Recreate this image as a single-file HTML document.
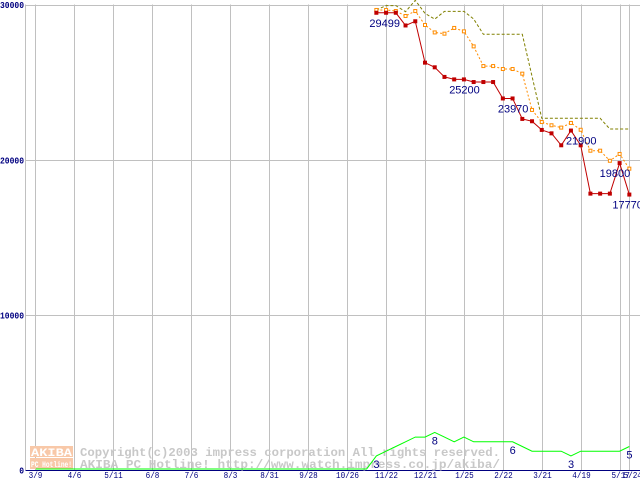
<!DOCTYPE html>
<html><head><meta charset="utf-8"><style>
html,body{margin:0;padding:0;background:#fff;}
svg{display:block;}
text{font-family:"Liberation Mono",monospace;}
</style></head><body>
<svg id="chart" width="640" height="480" xmlns="http://www.w3.org/2000/svg">
<g id="grid"></g>
<g id="wm">
  <rect x="30" y="446" width="43" height="11" fill="#f8c8a8"/>
  <rect x="30" y="458" width="43" height="11" fill="#f8c8a8"/>
  <text x="31" y="456" font-size="11" fill="#fff" font-weight="bold" textLength="41" lengthAdjust="spacingAndGlyphs">AKIBA</text>
  <text x="31" y="467" font-size="8" fill="#fff" font-weight="bold" textLength="41" lengthAdjust="spacingAndGlyphs">PC Hotline!</text>
  <text x="80" y="456" font-size="12" fill="#c8c8c8" font-weight="bold" textLength="420" lengthAdjust="spacingAndGlyphs">Copyright(c)2003 impress corporation All rights reserved.</text>
  <text x="80" y="468" font-size="12" fill="#c8c8c8" font-weight="bold" textLength="420" lengthAdjust="spacingAndGlyphs">AKIBA PC Hotline!  http://www.watch.impress.co.jp/akiba/</text>
</g>
<g id="series"></g>
</svg>
<script>
const xLabels=["3/9","4/6","5/11","6/8","7/6","8/3","8/31","9/28","10/26","11/22","12/21","1/25","2/22","3/21","4/19","5/17","5/24"];
const yTicks=[0,10000,20000,30000];
const startWeek=35;
const minPrice=[29499,29499,29499,28680,28950,26280,25980,25360,25200,25200,25030,25030,25030,23970,23970,22650,22500,21940,21720,20950,21900,20950,17830,17830,17830,19800,17770];
const avgPrice=[29680,29680,29610,29290,29610,28710,28230,28150,28520,28300,27330,26060,26060,25870,25870,25570,23230,22450,22240,22090,22390,21950,20600,20600,19950,20390,19440];
const maxPrice=[29680,29960,29960,29570,30300,29460,29090,29590,29590,29590,29100,28110,28110,28110,28110,28110,25400,22690,22690,22690,22690,22690,22690,22690,22000,22000,22000];
const shopCount=[3,4,5,6,7,7,8,7,6,7,6,6,6,6,6,5,4,4,4,4,3,4,4,4,4,4,5];
const priceLabels=[[0,"29499"],[8,"25200"],[13,"23970"],[20,"21900"],[25,"19800"],[26,"17770"]];
const countLabels=[[0,"3"],[6,"8"],[14,"6"],[20,"3"],[26,"5"]];

const NS="http://www.w3.org/2000/svg";
const xw=w=>35.8+w*9.73;
const yP=v=>470-v*0.0155;
const yC=c=>470-c*4.7;
function mk(tag,attrs,parent){const e=document.createElementNS(NS,tag);for(const k in attrs)e.setAttribute(k,attrs[k]);parent.appendChild(e);return e;}
const grid=document.getElementById('grid'),ser=document.getElementById('series');
const gx=[];for(let k=0;k<16;k++)gx.push(35.5+39*k);gx.push(629.5);
gx.forEach((x,i)=>{
 const l=mk('line',{x1:x,y1:4.5,x2:x,y2:470,stroke:'#c0c0c0'},grid);
 
 
 const s=xLabels[i];
 const w=s.length*4.6;
 const t=mk('text',{x:i==15?x-9:(i==16?x-6:x-w/2),y:478,'font-size':9,fill:'#000080',textLength:w,lengthAdjust:'spacingAndGlyphs'},grid);
 t.textContent=s;
 
 
});
yTicks.forEach(v=>{
 const y=Math.round(yP(v))+0.5;
 const l=mk('line',{x1:25.5,y1:y,x2:640,y2:y,stroke:v==0?'#000080':'#c0c0c0'},grid);
 
 
 const s=String(v);
 const w=s.length*4.8;
 const t=mk('text',{x:24-w,y:v==30000?8:y+3,'font-size':9,fill:'#000080','font-weight':'bold',textLength:w,lengthAdjust:'spacingAndGlyphs'},grid);
 t.textContent=s;
 
 
});
const ax=mk('line',{x1:25.5,y1:4.5,x2:25.5,y2:470,stroke:'#c0c0c0'},grid);


let gp=[[xw(0),yC(0)-1],[xw(startWeek-1),yC(0)-1]];
shopCount.forEach((c,i)=>gp.push([xw(startWeek+i),yC(c)]));
const g=mk('polyline',{points:gp.map(p=>p.join(',')).join(' '),fill:'none',stroke:'#00ff00','stroke-width':1},ser);


function line(arr,color,dash,name){
 const pts=arr.map((v,i)=>[xw(startWeek+i),Math.max(yP(v),-5)].join(',')).join(' ');
 const p=mk('polyline',{points:pts,fill:'none',stroke:color,'stroke-width':1,'stroke-dasharray':dash},ser);
 
 
}
line(maxPrice,'#808000','3,2','max-price-line');
line(avgPrice,'#ff8c00','2,2','avg-price-line');
line(minPrice,'#c00000','none','min-price-line');
avgPrice.forEach((v,i)=>{
 const r=mk('rect',{x:xw(startWeek+i)-1.5,y:yP(v)-1.5,width:3,height:3,fill:'#fff',stroke:'#ff8c00','stroke-width':1},ser);
 
 
});
minPrice.forEach((v,i)=>{
 const r=mk('rect',{x:xw(startWeek+i)-2,y:yP(v)-2,width:4,height:4,fill:'#c00000'},ser);
 
 
});
priceLabels.forEach(([i,s])=>{
 const t=mk('text',{x:xw(startWeek+i)-5,y:yP(minPrice[i])+14,'font-size':11,fill:'#000080',style:'font-family:"Liberation Sans",sans-serif'},ser);
 if(i==25){t.setAttribute('x',xw(startWeek+i)-20);}
 if(i==26){t.setAttribute('x',xw(startWeek+i)-17);}
 if(i==0){t.setAttribute('x',xw(startWeek+i)-7);}
 t.textContent=s;
 
 
});
countLabels.forEach(([i,s])=>{
 const t=mk('text',{x:xw(startWeek+i)-3,y:yC(shopCount[i])+12,'font-size':11,fill:'#000080',style:'font-family:"Liberation Sans",sans-serif'},ser);
 t.textContent=s;
 
 
});
</script>
</body></html>
